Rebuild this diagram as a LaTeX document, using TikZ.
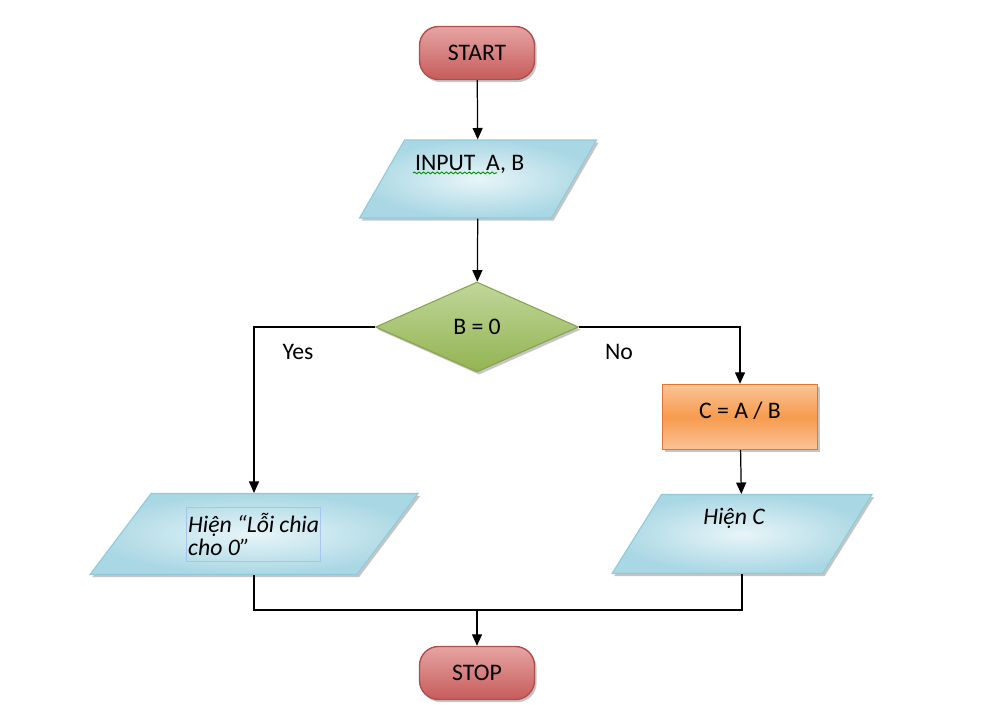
\documentclass[tikz,border=0pt]{standalone}
\usepackage{fontspec}
\setmainfont{Carlito}
\usetikzlibrary{shapes.geometric,arrows.meta,shadows,decorations.pathmorphing}

\definecolor{termtop}{HTML}{E6A4A3}
\definecolor{termbot}{HTML}{C65C5B}
\definecolor{termedge}{HTML}{B24F4E}
\definecolor{iodark}{HTML}{A9D7E4}
\definecolor{iolight}{HTML}{E8F5F8}
\definecolor{ioedge}{HTML}{8FCADB}
\definecolor{dectop}{HTML}{C0D69A}
\definecolor{decbot}{HTML}{93B452}
\definecolor{decedge}{HTML}{86A34B}
\definecolor{orlight}{HTML}{FAC497}
\definecolor{ormid}{HTML}{F79B4E}
\definecolor{oredge}{HTML}{E2772C}
\definecolor{boxedge}{HTML}{A8C5F0}

\begin{document}
\begin{tikzpicture}[x=0.02cm, y=-0.02cm, font=\fontsize{13.5}{15}\selectfont,
  line/.style={draw=black, line width=0.7pt},
  arr/.style={line, -{Triangle[length=2.3mm,width=2mm]}},
  shade/.style={drop shadow={shadow xshift=1.2pt, shadow yshift=-1.5pt, fill=black!45}},
  term/.style={draw=termedge, line width=0.8pt, rounded corners=0.38cm,
               top color=termtop, bottom color=termbot, shade,
               minimum width=2.3cm, minimum height=1.06cm},
  io/.style={trapezium, trapezium stretches body=true, draw=ioedge, line width=0.6pt,
             inner color=iolight, outer color=iodark, shade, inner xsep=2pt,
             text height=0pt, text depth=0pt},
  decision/.style={diamond, draw=decedge, line width=0.6pt, top color=dectop,
                   bottom color=decbot, shade, inner sep=0pt,
                   minimum width=4.06cm, minimum height=1.8cm},
  process/.style={draw=oredge, line width=0.8pt, top color=orlight, bottom color=orlight,
                  middle color=ormid, shade, minimum width=3.1cm, minimum height=1.3cm,
                  text height=0.32cm, text depth=0.25cm},
  msgbox/.style={draw=boxedge, line width=0.5pt, text width=2.62cm, align=flush left,
                 inner xsep=1pt, inner ysep=2pt, minimum height=1.08cm,
                 font=\fontsize{13.5}{13}\selectfont\itshape},
  lbl/.style={inner sep=1pt},
]
\useasboundingbox (0,0) rectangle (982,704);

\node[term] (start) at (477,53) {START};

\node[io, trapezium left angle=60, trapezium right angle=120,
      minimum width=4.74cm, inner ysep=0.78cm] (input) at (478,179) {};
\node[lbl, anchor=west] (intext) at (413,164) {INPUT\ \ A, B};
% spell-check squiggle under the input text
\draw[green!55!black, line width=0.5pt, decorate,
      decoration={snake, amplitude=0.5pt, segment length=2.6pt}]
  ([yshift=-1.6pt]intext.base west) -- ++(84,0);

\node[decision] (test) at (477,327) {B = 0};

\node[process] (calc) at (740,417) {C = A / B};

\node[io, trapezium left angle=53, trapezium right angle=127,
      minimum width=6.56cm, inner ysep=0.81cm] (errout) at (254,534) {};
\node[msgbox, anchor=north west] (errtext) at (186,507) {Hiện “Lỗi chia\\cho 0"};

\node[io, trapezium left angle=58, trapezium right angle=122,
      minimum width=5.2cm, inner ysep=0.79cm] (cout) at (742,534) {};
\node[lbl, font=\fontsize{13.5}{15}\selectfont\itshape] (ctext) at (734,518) {Hiện C};

\node[term] (stop) at (477,673) {STOP};

\draw[arr] (start) -- (input);
\draw[arr] (input) -- (test);
\draw[arr] (test.west) -| (errout.north);
\draw[arr] (test.east) -| (calc.north);
\draw[arr] (calc) -- (cout);

\node[lbl] (yes) at (298,352) {Yes};
\node[lbl] (no) at (619,352) {No};

\coordinate (join) at (477,610);
\draw[line] (errout.south) |- (join) -| (cout.south);
\draw[arr] (join) -- (stop);
\end{tikzpicture}
\end{document}
